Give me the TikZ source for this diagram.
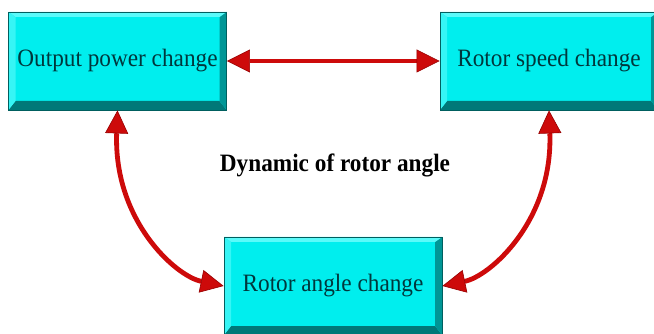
\documentclass[tikz,border=0pt]{standalone}
\usepackage{fontspec}
\setmainfont{Liberation Serif}
\usetikzlibrary{arrows.meta}
\definecolor{boxcyan}{RGB}{0,238,238}
\definecolor{boxlight}{RGB}{90,250,250}
\definecolor{boxdark}{RGB}{0,150,150}
\definecolor{boxdarker}{RGB}{0,120,120}
\definecolor{boxedge}{RGB}{0,95,95}
\definecolor{boxtext}{RGB}{0,55,60}
\definecolor{arrred}{RGB}{205,10,10}
\definecolor{arrdark}{RGB}{150,0,0}
\newcommand{\sqz}[1]{\scalebox{0.93}[1]{#1}}
\tikzset{
  bevbox/.style={
    rectangle, minimum width=218pt, minimum height=98pt, inner sep=0pt,
    fill=boxcyan, draw=boxedge, line width=0.8pt,
    text=boxtext, font=\fontsize{25}{28}\selectfont,
    path picture={
      \path (path picture bounding box.south west) coordinate (bsw)
            (path picture bounding box.north east) coordinate (bne)
            (path picture bounding box.south east) coordinate (bse)
            (path picture bounding box.north west) coordinate (bnw);
      \fill[boxdarker] (bsw) -- (bse) -- ([shift={(-7pt,9pt)}]bse) -- ([shift={(7pt,9pt)}]bsw) -- cycle;
      \fill[boxdark] (bse) -- (bne) -- ([shift={(-7pt,-5pt)}]bne) -- ([shift={(-7pt,9pt)}]bse) -- cycle;
      \fill[boxlight] (bnw) -- (bne) -- ([shift={(-7pt,-5pt)}]bne) -- ([shift={(7pt,-5pt)}]bnw) -- cycle;
      \fill[boxlight!60!boxcyan] (bsw) -- (bnw) -- ([shift={(7pt,-5pt)}]bnw) -- ([shift={(7pt,9pt)}]bsw) -- cycle;
    }
  },
  redtip/.style={Triangle[length=23pt,width=23pt,color=arrdark,fill=arrred,line width=0.6pt]},
  redarrow/.style={
    draw=arrred, line width=4.8pt, {Triangle[length=23pt,width=23pt,color=arrdark,fill=arrred,line width=0.6pt]}-{Triangle[length=23pt,width=23pt,color=arrdark,fill=arrred,line width=0.6pt]}
  },
  title/.style={font=\bfseries\fontsize{25}{28}\selectfont, text=black}
}
\begin{document}
\begin{tikzpicture}[x=1pt,y=-1pt]
  \useasboundingbox (0,0) rectangle (654,334);
  \clip (0,0) rectangle (654,334);
  \node[bevbox] (b1) at (117.5,61) {\sqz{Output power change}};
  \node[bevbox] (b2) at (549,61) {\sqz{Rotor speed change}};
  \node[bevbox] (b3) at (333,286) {\sqz{Rotor angle change}};
  \node[title] (t) at (335,165) {\sqz{Dynamic of rotor angle}};
  \draw[redarrow] (b1.east) -- (b2.west);
  \draw[redarrow] (b1.south) .. controls +(-4,110) and +(-48,-10) .. (b3.west);
  \draw[redarrow] (b2.south) .. controls +(4,110) and +(48,-10) .. (b3.east);
\end{tikzpicture}
\end{document}
